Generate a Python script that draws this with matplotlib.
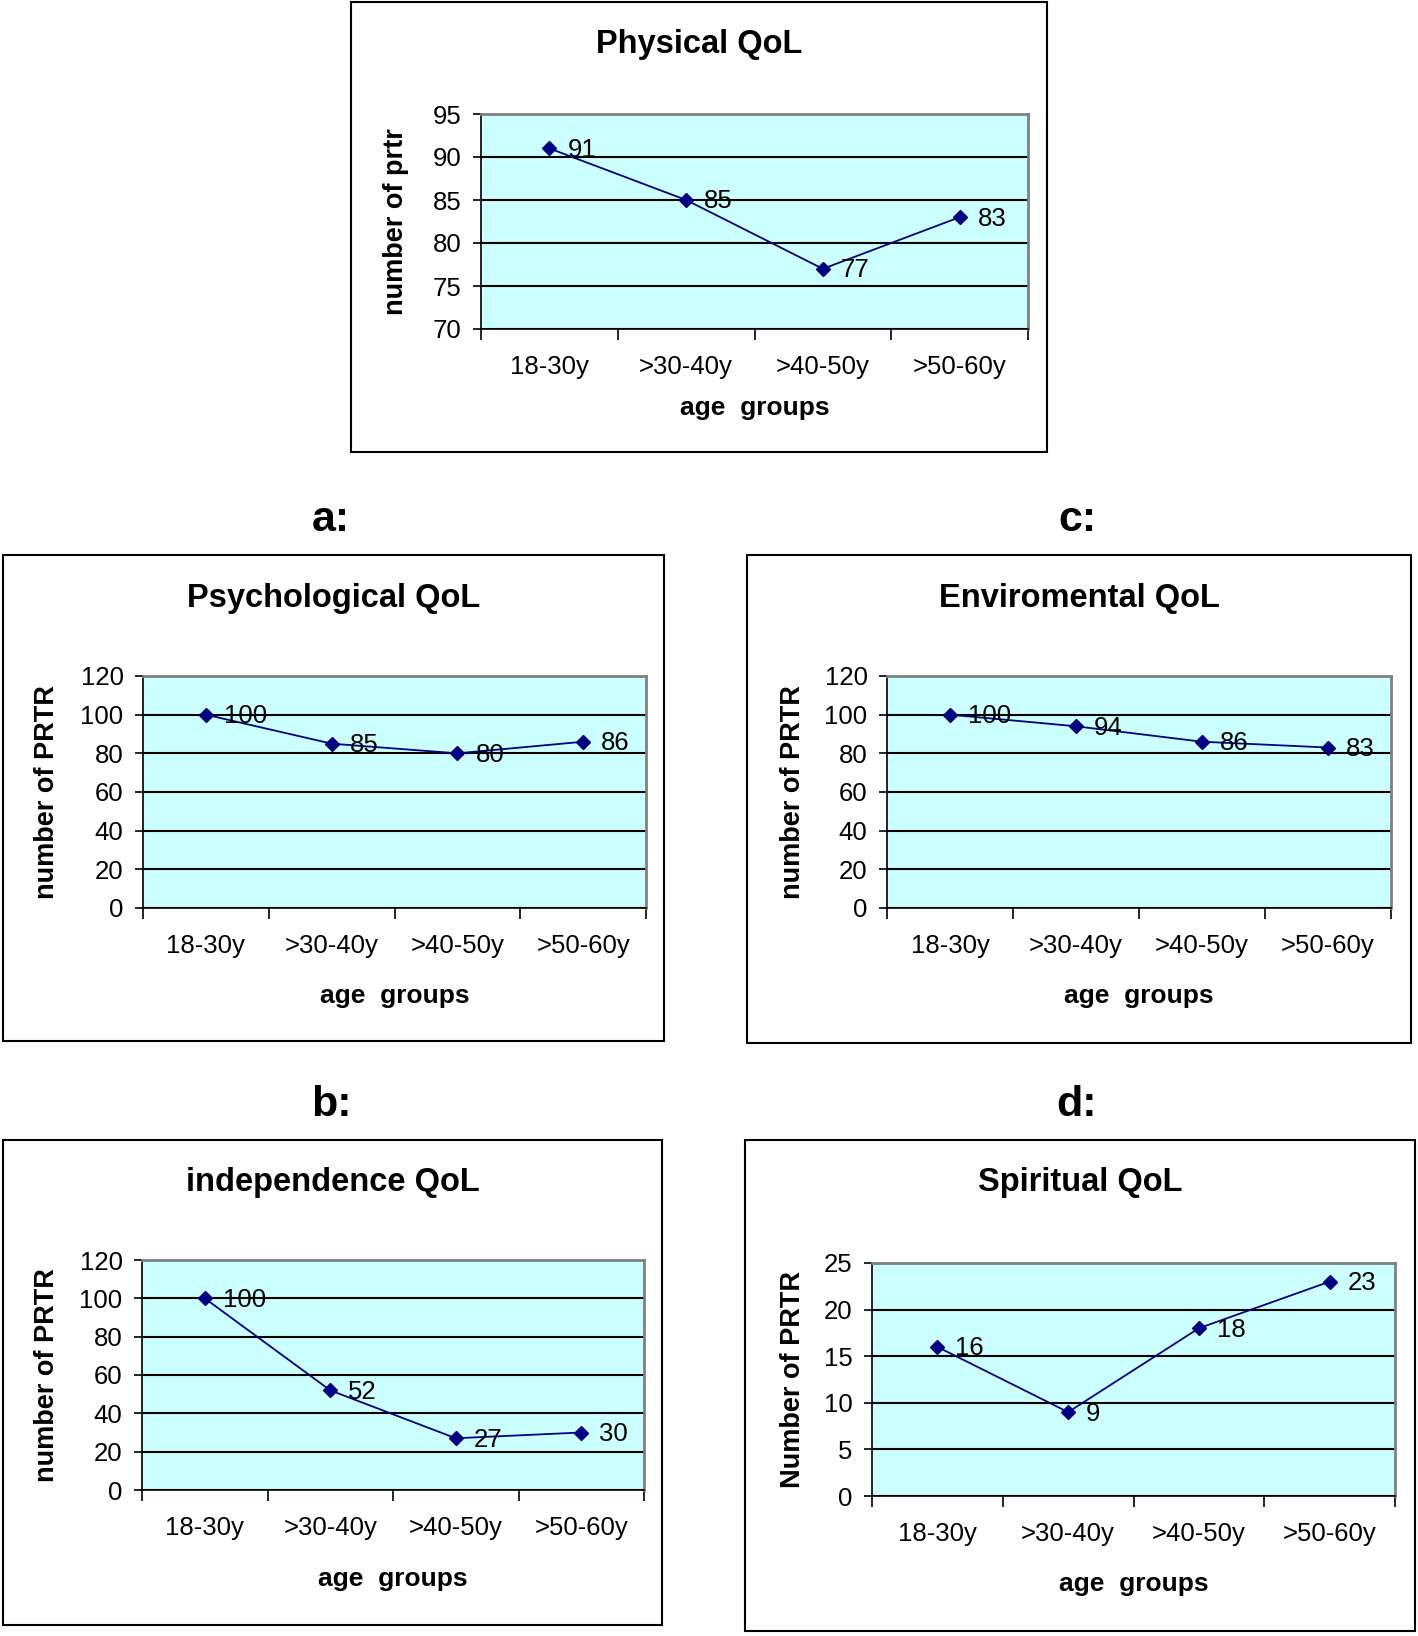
import numpy as np
import matplotlib.pyplot as plt
from matplotlib.patches import Rectangle

plt.rcParams['font.family'] = ['Liberation Sans', 'DejaVu Sans']

# data
groups = ['18-30y', '>30-40y', '>40-50y', '>50-60y']
physical = [91, 85, 77, 83]
psychological = [100, 85, 80, 86]
independence = [100, 52, 27, 30]
environmental = [100, 94, 86, 83]
spiritual = [16, 9, 18, 23]

W, H = 1418, 1636
fig = plt.figure(figsize=(W / 100, H / 100), dpi=100)


def fx(x):
    return x / W


def fy(y):
    return 1 - y / H


def panel(box, plot, title, ylabel, values, yticks, ylab_dx, xlab_dy):
    # box and plot given in pixels: (x0, y0, x1, y1) from top-left
    bx0, by0, bx1, by1 = box
    fig.patches.append(Rectangle((fx(bx0), fy(by1)), (bx1 - bx0) / W, (by1 - by0) / H,
                                 transform=fig.transFigure, fill=False,
                                 edgecolor='black', lw=1.5))
    px0, py0, px1, py1 = plot
    ax = fig.add_axes([fx(px0), fy(py1), (px1 - px0) / W, (py1 - py0) / H])
    ax.set_facecolor('#CCFFFF')
    x = np.arange(1, len(values) + 1)
    ax.plot(x, values, color='#000080', lw=1.3, marker='D', ms=7,
            mfc='#000080', mec='#000080', zorder=3)
    for xi, v in zip(x, values):
        ax.annotate(str(v), (xi, v), xytext=(13, -1), textcoords='offset points',
                    ha='left', va='center', fontsize=18.5, color='black', zorder=4)
    ax.set_xlim(0.5, len(values) + 0.5)
    ax.set_ylim(yticks[0], yticks[-1])
    ax.set_yticks(yticks)
    ax.tick_params(axis='y', length=6, width=1.2, pad=8, labelsize=18.5, direction='out')
    ax.set_xticks(np.arange(0.5, len(values) + 1, 1.0))
    ax.set_xticklabels([])
    ax.set_xticks(x, minor=True)
    ax.set_xticklabels(groups, minor=True)
    ax.tick_params(axis='x', which='major', length=8, width=1.2, direction='out')
    ax.tick_params(axis='x', which='minor', length=0, pad=19, labelsize=18.5)
    ax.set_axisbelow(True)
    ax.yaxis.grid(True, color='black', lw=1.5)
    ax.spines['top'].set_color('#808080')
    ax.spines['right'].set_color('#808080')
    ax.spines['top'].set_linewidth(2)
    ax.spines['right'].set_linewidth(2)
    ax.spines['left'].set_linewidth(1.2)
    ax.spines['bottom'].set_linewidth(1.2)
    fig.text(fx((bx0 + bx1) / 2), fy(by0 + 43), title, ha='center', va='center',
             fontsize=23.5, fontweight='bold')
    fig.text(fx(px0 - ylab_dx), fy((py0 + py1) / 2), ylabel, ha='center', va='center',
             rotation=90, fontsize=19.5, fontweight='bold')
    fig.text(fx((px0 + px1) / 2), fy(py1 + xlab_dy), 'age  groups', ha='center',
             va='center', fontsize=19, fontweight='bold')
    return ax


panel((351, 2, 1047, 452), (481, 114, 1028, 329), 'Physical QoL', 'number of prtr',
      physical, np.arange(70, 96, 5), 85, 79)
panel((3, 555, 664, 1041), (143, 676, 646, 908), 'Psychological QoL', 'number of PRTR',
      psychological, np.arange(0, 121, 20), 96, 88)
panel((747, 555, 1411, 1043), (887, 676, 1391, 908), 'Enviromental QoL', 'number of PRTR',
      environmental, np.arange(0, 121, 20), 94, 88)
panel((3, 1140, 662, 1625), (142, 1260, 644, 1490), 'independence QoL', 'number of PRTR',
      independence, np.arange(0, 121, 20), 95, 89)
panel((745, 1140, 1415, 1631), (872, 1263, 1395, 1496), 'Spiritual QoL', 'Number of PRTR',
      spiritual, np.arange(0, 26, 5), 79, 88)

for lab, xp, yp in [('a:', 331, 520), ('c:', 1077, 520), ('b:', 331, 1105), ('d:', 1077, 1105)]:
    fig.text(fx(xp), fy(yp), lab, ha='center', va='center', fontsize=31, fontweight='bold')

fig.savefig('out.png', dpi=100)
